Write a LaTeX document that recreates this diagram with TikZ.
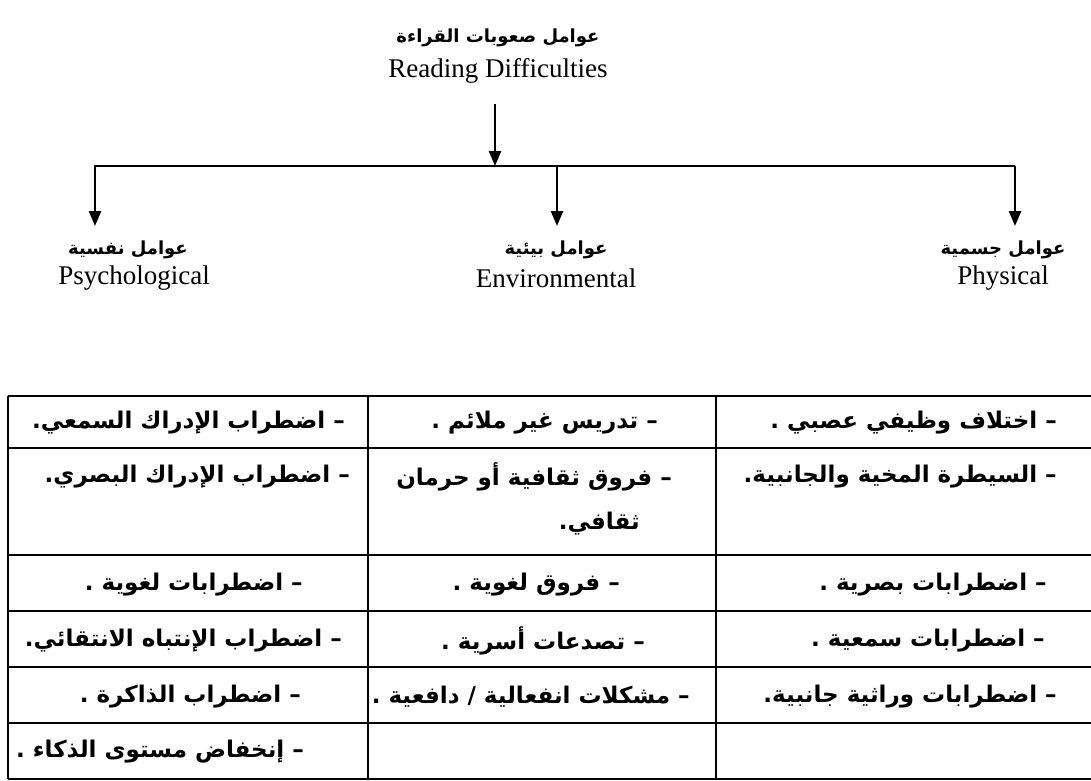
\documentclass[tikz,border=0pt]{standalone}
\usepackage{fontspec}
\usetikzlibrary{arrows.meta}
\setmainfont{Liberation Serif}
\newfontfamily\arabicfont[Script=Arabic]{DejaVu Sans}
\TeXXeTstate=1
\newcommand\artxt[1]{{\arabicfont\bfseries\beginR #1\endR}}
\tikzset{
  arr/.style={line width=2.6pt,line join=miter,-{Triangle[width=12pt,length=15pt]}},
  grid/.style={line width=2pt},
  cell/.style={anchor=east,inner sep=0pt,font=\fontsize{23}{27}\selectfont},
  arhead/.style={inner sep=0pt,font=\fontsize{18}{21}\selectfont},
  enhead/.style={inner sep=0pt,font=\fontsize{27}{31}\selectfont},
}
\begin{document}
\begin{tikzpicture}[x=1pt,y=-1pt]
\useasboundingbox (0,0) rectangle (1091,780);
% title
\node[arhead] (tar) at (498,38) {\artxt{عوامل صعوبات القراءة}};
\node[enhead] (ten) at (498,71) {Reading Difficulties};
% connectors
\coordinate (a0) at (495,104);
\coordinate (j) at (495,166);
\coordinate (bl) at (95,166);
\coordinate (bm) at (557,166);
\coordinate (br) at (1015,166);
\coordinate (pl) at (95,226);
\coordinate (pm) at (557,226);
\coordinate (pr) at (1015,226);
\draw[arr] (a0) -- (j);
\draw[arr] (br) -- (bl) -- (pl);
\draw[arr] (bm) -- (pm);
\draw[arr] (br) -- (pr);
% headers
\node[arhead] (psa) at (128,250) {\artxt{عوامل نفسية}};
\node[enhead] (pse) at (134,278) {Psychological};
\node[arhead] (ena) at (556,250) {\artxt{عوامل بيئية}};
\node[enhead] (ene) at (556,278) {Environmental};
\node[arhead] (pha) at (1003,250) {\artxt{عوامل جسمية}};
\node[enhead] (phe) at (1003,278) {Physical};
% table grid
\foreach \y in {396,448,555,611,667,723,779}
  \draw[grid] (8,\y) -- (1091,\y);
\draw[grid] (8,396) -- (8,779);
\draw[grid] (368,396) -- (368,779);
\draw[grid] (716,396) -- (716,779);
% left column
\node[cell] (l1) at (345,423) {\artxt{– اضطراب الإدراك السمعي.}};
\node[cell] (l2) at (350,477) {\artxt{– اضطراب الإدراك البصري.}};
\node[cell] (l3) at (303,585) {\artxt{– اضطرابات لغوية .}};
\node[cell] (l4) at (342,641) {\artxt{– اضطراب الإنتباه الانتقائي.}};
\node[cell] (l5) at (301,697) {\artxt{– اضطراب الذاكرة .}};
\node[cell,anchor=west] (l6) at (16,752) {\artxt{– إنخفاض مستوى الذكاء .}};
% middle column
\node[cell] (m1) at (658,423) {\artxt{– تدريس غير ملائم .}};
\node[cell] (m2) at (672,477) {\artxt{– فروق ثقافية أو حرمان}};
\node[cell] (m2b) at (640,524) {\artxt{ثقافي.}};
\node[cell] (m3) at (620,585) {\artxt{– فروق لغوية .}};
\node[cell] (m4) at (645,641) {\artxt{– تصدعات أسرية .}};
\node[cell] (m5) at (690,697) {\artxt{– مشكلات انفعالية / دافعية .}};
% right column
\node[cell] (r1) at (1057,423) {\artxt{– اختلاف وظيفي عصبي .}};
\node[cell] (r2) at (1057,477) {\artxt{– السيطرة المخية والجانبية.}};
\node[cell] (r3) at (1047,585) {\artxt{– اضطرابات بصرية .}};
\node[cell] (r4) at (1045,641) {\artxt{– اضطرابات سمعية .}};
\node[cell] (r5) at (1057,697) {\artxt{– اضطرابات وراثية جانبية.}};
\end{tikzpicture}
\end{document}
